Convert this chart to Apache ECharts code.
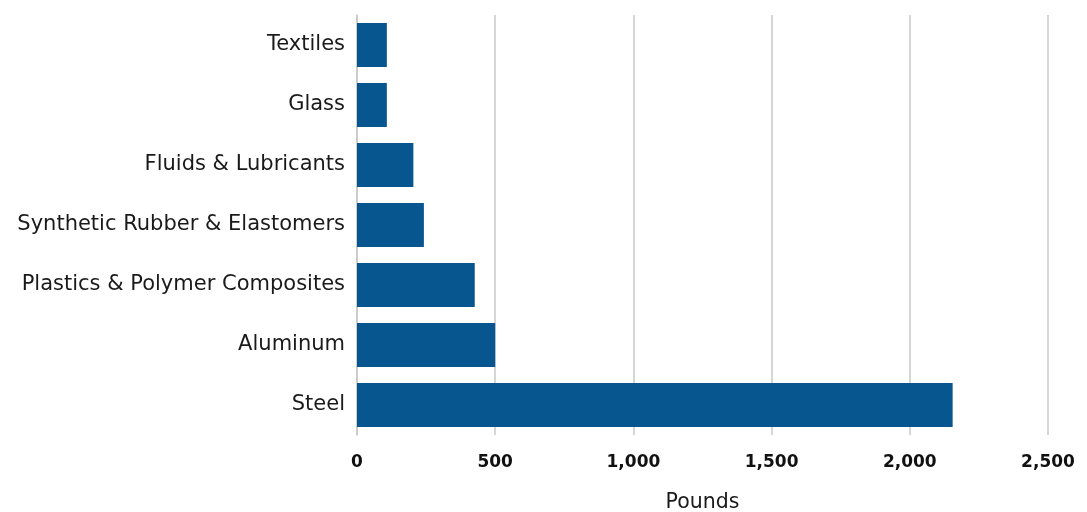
<!DOCTYPE html>
<html><head><meta charset="utf-8">
<script src="https://cdn.jsdelivr.net/npm/echarts@6/dist/echarts.min.js"></script>
<style>html,body{margin:0;padding:0;background:#fff}#c{width:1087px;height:512px}</style>
</head><body><div id="c"></div>
<script>
const categories = ["Steel","Aluminum","Plastics & Polymer Composites","Synthetic Rubber & Elastomers","Fluids & Lubricants","Glass","Textiles"];
const values = [2155, 500, 426, 242, 204, 108, 108];
const xTicks = {min:0, max:2500, interval:500};
const chart = echarts.init(document.getElementById('c'));
chart.setOption({
  animation:false,
  grid:{left:357, right:39, top:15, bottom:77, containLabel:false, outerBoundsMode:'none'},
  xAxis:{type:'value', min:xTicks.min, max:xTicks.max, interval:xTicks.interval,
    name:'Pounds', nameLocation:'middle', nameGap:57,
    nameTextStyle:{fontFamily:'DejaVu Sans', fontSize:20.5, color:'#1a1a1a'},
    axisLine:{show:false}, axisTick:{show:false},
    axisLabel:{fontFamily:'DejaVu Sans', fontWeight:'bold', fontSize:17, color:'#111', margin:19,
      hideOverlap:false, formatter:v=>v.toLocaleString('en-US')},
    splitLine:{lineStyle:{color:'#c8c8c8', width:1.5}}},
  yAxis:{type:'category', data:categories,
    axisLine:{lineStyle:{color:'#c8c8c8', width:1.5}}, axisTick:{show:false},
    axisLabel:{fontFamily:'DejaVu Sans', fontSize:21, color:'#1a1a1a', margin:12}},
  series:[{type:'bar', data:values, barCategoryGap:'27%', itemStyle:{color:'#08568f'}}]
});
</script></body></html>
